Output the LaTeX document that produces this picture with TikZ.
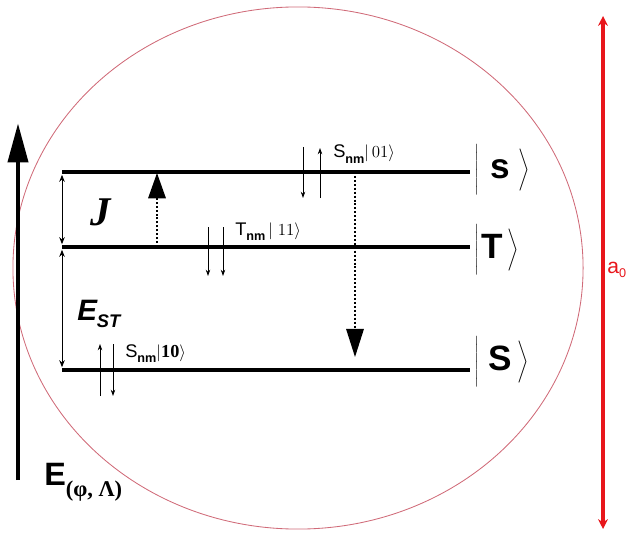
\documentclass[tikz,border=0pt]{standalone}
\usepackage{fontspec}
\setmainfont{Liberation Serif}
\setsansfont{Liberation Sans}
\usetikzlibrary{arrows.meta}
\definecolor{ringRed}{HTML}{D06A78}
\definecolor{axisRed}{HTML}{E8161B}

\newcommand{\ketbox}[3]{$\left|\rule[-12pt]{0pt}{33pt}\mbox{\hspace{#2}#1\hspace{#3}}\right\rangle$}

\begin{document}
\begin{tikzpicture}[x=0.025cm, y=-0.025cm,
    level/.style={line width=2.8pt},
    spin/.style={-{Stealth[length=4.5pt, width=3.2pt]}, line width=0.6pt},
    gap/.style={{Stealth[length=5pt, width=4pt]}-{Stealth[length=5pt, width=4pt]}, line width=0.7pt},
    hop/.style={dash pattern=on 1.4pt off 1.4pt, line width=1pt, -{Triangle[length=#1, width=12.5pt]}},
    ket/.style={anchor=west, inner sep=0pt, font=\fontsize{25}{30}\selectfont\sffamily\bfseries},
    tag/.style={anchor=base west, inner sep=0pt, font=\fontsize{13}{15}\selectfont\sffamily},
  ]
    \useasboundingbox (0,0) rectangle (628,537);

    % the ring
    \draw[ringRed, line width=0.6pt] (298,268) ellipse [x radius=7.125cm, y radius=6.525cm];

    % energy levels
    \coordinate (sL) at (62,172); \coordinate (sR) at (470,172);
    \coordinate (tL) at (62,247); \coordinate (tR) at (470,247);
    \coordinate (gL) at (62,370); \coordinate (gR) at (470,370);
    \draw[level] (sL) -- (sR);
    \draw[level] (tL) -- (tR);
    \draw[level] (gL) -- (gR);

    \node[ket] (ketS) at (474,170) {\ketbox{s}{8pt}{6pt}};
    \node[ket] (ketT) at (474,250) {\ketbox{T}{2pt}{3pt}};
    \node[ket] (ketG) at (474,362) {\ketbox{S}{7pt}{4pt}};

    % gaps
    \draw[gap] ([yshift=-2pt]sL) -- ([yshift=2pt]tL);
    \draw[gap] ([yshift=-2pt]tL) -- ([yshift=2pt]gL);
    \node[anchor=base west, inner sep=0pt, font=\fontsize{29}{32}\selectfont\bfseries\itshape] (jLabel) at (90,225) {J};
    \node[anchor=base west, inner sep=0pt, font=\fontsize{21}{24}\selectfont\sffamily\bfseries\itshape] (estLabel) at (77,320)
      {E\raisebox{-5pt}{\fontsize{13}{14}\selectfont ST}};

    % transitions
    \coordinate (upA) at (157,247); \coordinate (upB) at (157,173);
    \draw[hop=18pt] (upA) -- (upB);
    \coordinate (dnA) at (355,172); \coordinate (dnB) at (355,357);
    \draw[hop=20pt] (dnA) -- (dnB);

    % spin pairs
    \foreach \x/\from/\to [count=\i] in {303/147/198, 320/198/148, 208/227/276,
                                         223/227/276, 100/396/344, 113/344/396} {
      \coordinate (spinA\i) at (\x,\from);
      \coordinate (spinB\i) at (\x,\to);
      \draw[spin] (spinA\i) -- (spinB\i);
    }
    \node[tag] (tagS01) at (333,158) {S\raisebox{-4pt}{\fontsize{9}{10}\selectfont\bfseries nm}$|\,01\rangle$};
    \node[tag] (tagT11) at (235,235) {T\raisebox{-4pt}{\fontsize{9}{10}\selectfont\bfseries nm}\,$|\;11\rangle$};
    \node[tag] (tagS10) at (125,357) {S\raisebox{-4pt}{\fontsize{9}{10}\selectfont\bfseries nm}$|\mathbf{10}\rangle$};

    % energy axis
    \coordinate (eBot) at (18,480); \coordinate (eTop) at (18,123);
    \draw[line width=3.5pt, -{Triangle[length=28pt, width=14pt]}] (eBot) -- (eTop);
    \node[anchor=base west, inner sep=0pt, font=\fontsize{23}{26}\selectfont\sffamily\bfseries] (eLabel) at (44,485)
      {E\raisebox{-8pt}{\fontsize{16}{18}\selectfont\rmfamily\bfseries(φ, Λ)}};

    % ring size
    \coordinate (aTop) at (603,16); \coordinate (aBot) at (603,529);
    \draw[axisRed, line width=2.2pt, {Stealth[length=7pt, width=7pt]}-{Stealth[length=7pt, width=7pt]}] (aTop) -- (aBot);
    \node[anchor=base west, inner sep=0pt, text=axisRed, font=\fontsize{15}{18}\selectfont\sffamily] (aLabel) at (607,273)
      {a\raisebox{-3pt}{\fontsize{9}{11}\selectfont 0}};
  \end{tikzpicture}
\end{document}
